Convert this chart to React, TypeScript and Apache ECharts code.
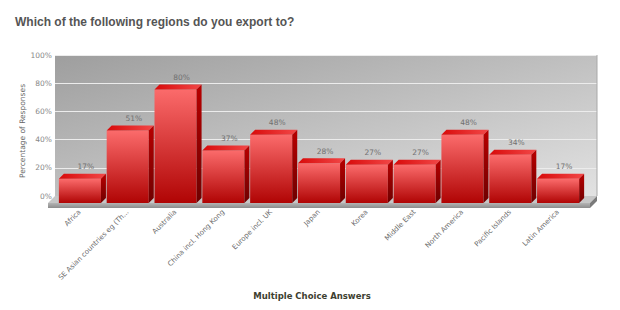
import React, { useEffect, useRef } from "react";
import * as echarts from "echarts";

const categories = [
  "Africa",
  "SE Asian countries eg (Th...",
  "Australia",
  "China incl. Hong Kong",
  "Europe incl. UK",
  "Japan",
  "Korea",
  "Middle East",
  "North America",
  "Pacific Islands",
  "Latin America",
];
const values = [17, 51, 80, 37, 48, 28, 27, 27, 48, 34, 17];
const yTicks = [0, 20, 40, 60, 80, 100];

const FONT = "DejaVu Sans";

export default function App() {
  const ref = useRef<HTMLDivElement>(null);
  useEffect(() => {
    if (!ref.current) return;
    const chart = echarts.init(ref.current, undefined, { renderer: "svg" });
    const DX = 5;
    const DY = 5;
    const option: any = {
      animation: false,
      title: {
        text: "Which of the following regions do you export to?",
        left: 10,
        top: 11,
        textStyle: {
          fontFamily: "Liberation Sans",
          fontSize: 12,
          fontWeight: "bold",
          color: "#555555",
        },
      },
      grid: [
        {
          left: 55,
          top: 55,
          width: 542,
          height: 141,
          show: true,
          borderWidth: 0,
          backgroundColor: new echarts.graphic.LinearGradient(0, 0, 1, 1, [
            { offset: 0, color: "#9e9e9e" },
            { offset: 1, color: "#e2e2e2" },
          ]),
        },
        { left: 56, top: 61, width: 526, height: 142 },
      ],
      xAxis: [
        { gridIndex: 0, type: "category", data: categories, show: false },
        {
          gridIndex: 1,
          type: "category",
          data: categories,
          axisLine: { show: false },
          axisTick: { show: false },
          axisLabel: {
            rotate: 45,
            interval: 0,
            margin: 8,
            fontFamily: FONT,
            fontSize: 7,
            color: "#6a6a6a",
          },
        },
      ],
      yAxis: [
        {
          gridIndex: 0,
          type: "value",
          min: 0,
          max: 100,
          interval: 20,
          axisLine: { show: false },
          axisTick: { show: false },
          axisLabel: {
            formatter: (v: number) => (yTicks.includes(v) ? v + "%" : ""),
            margin: 3,
            fontFamily: FONT,
            fontSize: 7.5,
            color: "#888888",
          },
          splitLine: { lineStyle: { color: "#ececec", width: 1 } },
        },
        { gridIndex: 1, type: "value", min: 0, max: 100, show: false },
      ],
      graphic: [
        {
          type: "polygon",
          z: 1,
          shape: { points: [[55, 196], [597, 196], [590, 203], [48, 203]] },
          style: { fill: "#c6c6c6" },
        },
        {
          type: "rect",
          z: 1,
          shape: { x: 48, y: 203, width: 542, height: 5 },
          style: {
            fill: new echarts.graphic.LinearGradient(0, 0, 0, 1, [
              { offset: 0, color: "#b4b4b4" },
              { offset: 1, color: "#8c8c8c" },
            ]),
          },
        },
        {
          type: "polygon",
          z: 1,
          shape: { points: [[590, 203], [597, 196], [597, 201], [590, 208]] },
          style: { fill: "#7a7a7a" },
        },
        {
          type: "line",
          z: 1,
          shape: { x1: 597, y1: 55, x2: 597, y2: 196 },
          style: { stroke: "#a8a8a8", lineWidth: 1 },
        },
        {
          type: "text",
          z: 5,
          x: 22,
          y: 131,
          rotation: Math.PI / 2,
          style: {
            text: "Percentage of Responses",
            fontFamily: FONT,
            fontSize: 7.5,
            fill: "#666666",
            align: "center",
            verticalAlign: "middle",
          },
        },
        {
          type: "text",
          z: 5,
          x: 312,
          y: 296,
          style: {
            text: "Multiple Choice Answers",
            fontFamily: FONT,
            fontSize: 8.5,
            fontWeight: "bold",
            fill: "#3d4030",
            align: "center",
            verticalAlign: "middle",
          },
        },
      ],
      series: [
        {
          type: "custom",
          xAxisIndex: 1,
          yAxisIndex: 1,
          z: 5,
          data: values.map((v, i) => [i, v]),
          renderItem: (params: any, api: any) => {
            const idx = api.value(0);
            const v = api.value(1);
            const base = api.coord([idx, 0]);
            const top = api.coord([idx, v]);
            const bw = api.size([1, 0])[0] * 0.88;
            const x0 = base[0] - bw / 2;
            const x1 = x0 + bw;
            const yt = top[1];
            const yb = base[1];
            return {
              type: "group",
              children: [
                {
                  type: "rect",
                  shape: { x: x0, y: yt, width: bw, height: yb - yt },
                  style: {
                    fill: new echarts.graphic.LinearGradient(0, 0, 0, 1, [
                      { offset: 0, color: "#fb6b6b" },
                      { offset: 1, color: "#b00404" },
                    ]),
                  },
                },
                {
                  type: "polygon",
                  shape: {
                    points: [
                      [x0, yt],
                      [x0 + DX, yt - DY],
                      [x1 + DX, yt - DY],
                      [x1, yt],
                    ],
                  },
                  style: {
                    fill: new echarts.graphic.LinearGradient(0, 0, 1, 0, [
                      { offset: 0, color: "#d80a0a" },
                      { offset: 1, color: "#f24848" },
                    ]),
                  },
                },
                {
                  type: "polygon",
                  shape: {
                    points: [
                      [x1, yt],
                      [x1 + DX, yt - DY],
                      [x1 + DX, yb - DY],
                      [x1, yb],
                    ],
                  },
                  style: {
                    fill: new echarts.graphic.LinearGradient(0, 0, 0, 1, [
                      { offset: 0, color: "#b80000" },
                      { offset: 1, color: "#6e0000" },
                    ]),
                  },
                },
                {
                  type: "text",
                  x: base[0] + 6,
                  y: yt - DY - 7,
                  style: {
                    text: v + "%",
                    fontFamily: FONT,
                    fontSize: 7.5,
                    fill: "#707070",
                    align: "center",
                    verticalAlign: "middle",
                  },
                },
              ],
            };
          },
        },
      ],
    };
    chart.setOption(option);
    return () => chart.dispose();
  }, []);
  return (
    <div
      ref={ref}
      style={{ position: "absolute", left: 0, top: 0, width: 620, height: 310 }}
    />
  );
}
